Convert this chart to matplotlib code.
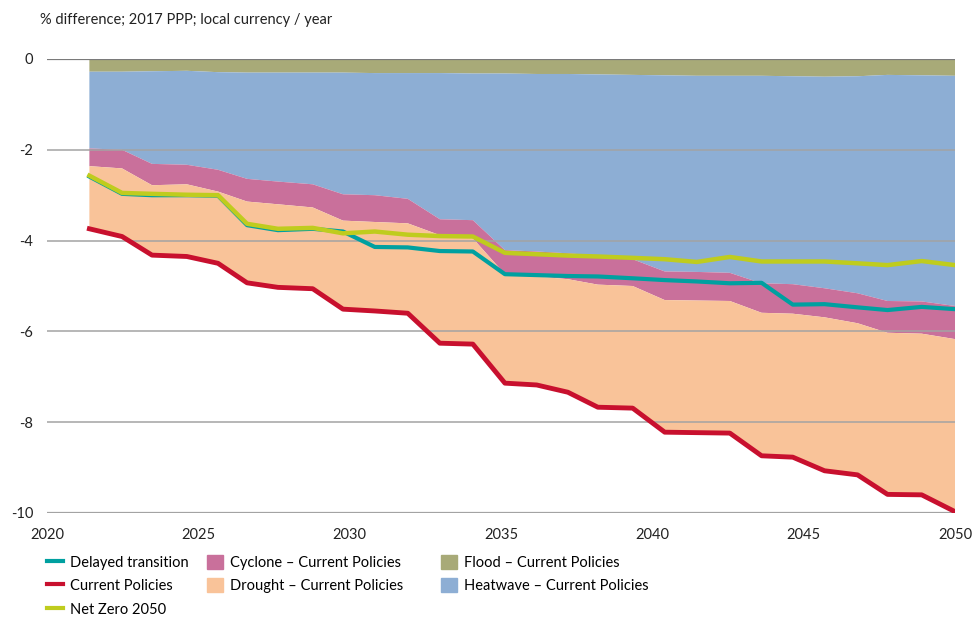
import matplotlib
matplotlib.use('Agg')
import matplotlib.pyplot as plt
from matplotlib.lines import Line2D
from matplotlib.patches import Patch

# no condensed face installed: Lato is the narrowest of the available families
plt.rcParams['font.family'] = ['Lato', 'DejaVu Sans']
plt.rcParams['axes.unicode_minus'] = False
fs = 10.5

# x positions of the data points
years = [2021.4, 2022.48, 2023.47, 2024.62, 2025.65, 2026.61, 2027.63, 2028.78,
         2029.78, 2030.83, 2031.92, 2032.98, 2034.07, 2035.13, 2036.18, 2037.21,
         2038.2, 2039.35, 2040.41, 2041.47, 2042.56, 2043.61, 2044.64, 2045.69,
         2046.78, 2047.77, 2048.9, 2050.0]

# stacked impact components - Current Policies (% difference)
flood = [-0.28, -0.28, -0.27, -0.26, -0.29, -0.30, -0.30, -0.30, -0.30, -0.31,
         -0.31, -0.31, -0.32, -0.32, -0.33, -0.33, -0.34, -0.35, -0.36, -0.37,
         -0.37, -0.37, -0.38, -0.39, -0.38, -0.35, -0.36, -0.37]
heatwave = [-1.69, -1.72, -2.04, -2.07, -2.15, -2.34, -2.40, -2.46, -2.68, -2.69,
            -2.77, -3.22, -3.23, -3.89, -3.91, -3.95, -3.99, -4.06, -4.32, -4.32,
            -4.34, -4.57, -4.58, -4.66, -4.78, -4.98, -4.98, -5.07]
cyclone = [-0.39, -0.41, -0.47, -0.43, -0.48, -0.50, -0.50, -0.51, -0.58, -0.59,
           -0.54, -0.35, -0.40, -0.53, -0.55, -0.57, -0.64, -0.59, -0.63, -0.63,
           -0.62, -0.65, -0.65, -0.64, -0.66, -0.70, -0.71, -0.73]
drought = [-1.38, -1.50, -1.54, -1.59, -1.58, -1.79, -1.83, -1.79, -1.95, -1.96,
           -1.98, -2.38, -2.33, -2.40, -2.39, -2.49, -2.70, -2.69, -2.91, -2.91,
           -2.91, -3.15, -3.16, -3.38, -3.34, -3.56, -3.55, -3.80]

# scenario totals
current_policies = [-3.74, -3.91, -4.32, -4.35, -4.50, -4.93, -5.03, -5.06, -5.51, -5.55,
                    -5.60, -6.26, -6.28, -7.14, -7.18, -7.34, -7.67, -7.69, -8.22, -8.23,
                    -8.24, -8.74, -8.77, -9.07, -9.16, -9.59, -9.60, -9.97]
delayed_transition = [-2.59, -2.97, -3.00, -3.00, -3.01, -3.66, -3.77, -3.74, -3.80, -4.14,
                      -4.15, -4.23, -4.24, -4.74, -4.76, -4.78, -4.79, -4.83, -4.87, -4.90,
                      -4.94, -4.93, -5.41, -5.40, -5.47, -5.53, -5.46, -5.51]
net_zero = [-2.57, -2.95, -2.97, -2.99, -3.00, -3.63, -3.74, -3.72, -3.84, -3.80,
            -3.87, -3.90, -3.91, -4.27, -4.30, -4.33, -4.35, -4.38, -4.41, -4.47,
            -4.36, -4.46, -4.46, -4.46, -4.50, -4.54, -4.45, -4.54]

x_ticks = [2020, 2025, 2030, 2035, 2040, 2045, 2050]
y_ticks = [0, -2, -4, -6, -8, -10]

c_flood = '#A8AA78'
c_heat = '#8DAED4'
c_cyclone = '#C9709B'
c_drought = '#F9C399'
c_teal = '#00A0A0'
c_red = '#C8102E'
c_yellow = '#BFCC1E'

fig = plt.figure(figsize=(9.73, 6.18), dpi=100)
ax = fig.add_axes([47 / 973, 1 - 513 / 618, 908 / 973, 454 / 618])

ax.stackplot(years, flood, heatwave, cyclone, drought,
             colors=[c_flood, c_heat, c_cyclone, c_drought], linewidth=0, zorder=1)

for y in [-2, -4, -6, -8]:
    ax.axhline(y, color='#a3a3a3', lw=1.1, zorder=2)
ax.axhline(0, color='#7a7a7a', lw=1.6, zorder=2)
ax.axhline(-10, color='#a3a3a3', lw=1.6, zorder=2)

ax.plot(years, delayed_transition, color=c_teal, lw=3, zorder=3)
ax.plot(years, current_policies, color=c_red, lw=3.5, zorder=3)
ax.plot(years, net_zero, color=c_yellow, lw=3.2, zorder=4)

ax.set_xlim(2020, 2050)
ax.set_ylim(-10, 0)
ax.set_xticks(x_ticks)
ax.set_yticks(y_ticks)
ax.set_xticklabels([str(t) for t in x_ticks])
ax.set_yticklabels([str(t) for t in y_ticks])
ax.tick_params(axis='both', length=0, labelsize=fs, colors='#222222')
ax.tick_params(axis='y', pad=10)
ax.tick_params(axis='x', pad=11)
for s in ax.spines.values():
    s.set_visible(False)

fig.text(40 / 973, 1 - 20 / 618, '% difference; 2017 PPP; local currency / year',
         ha='left', va='center', fontsize=fs, color='#222222')

# legend, three columns
leg_kw = dict(loc='upper left', frameon=False, fontsize=fs, handlelength=1.1,
              handleheight=1.1, handletextpad=0.5, labelspacing=0.58,
              borderpad=0, borderaxespad=0)
top = 1 - 555 / 618
fig.legend(handles=[Line2D([], [], color=c_teal, lw=3),
                    Line2D([], [], color=c_red, lw=3),
                    Line2D([], [], color=c_yellow, lw=3)],
           labels=['Delayed transition', 'Current Policies', 'Net Zero 2050'],
           bbox_to_anchor=(47 / 973, top), **leg_kw)
fig.legend(handles=[Patch(color=c_cyclone), Patch(color=c_drought)],
           labels=['Cyclone \u2013 Current Policies', 'Drought \u2013 Current Policies'],
           bbox_to_anchor=(207 / 973, top), **leg_kw)
fig.legend(handles=[Patch(color=c_flood), Patch(color=c_heat)],
           labels=['Flood \u2013 Current Policies', 'Heatwave \u2013 Current Policies'],
           bbox_to_anchor=(441 / 973, top), **leg_kw)

fig.savefig('out.png', dpi=100)
